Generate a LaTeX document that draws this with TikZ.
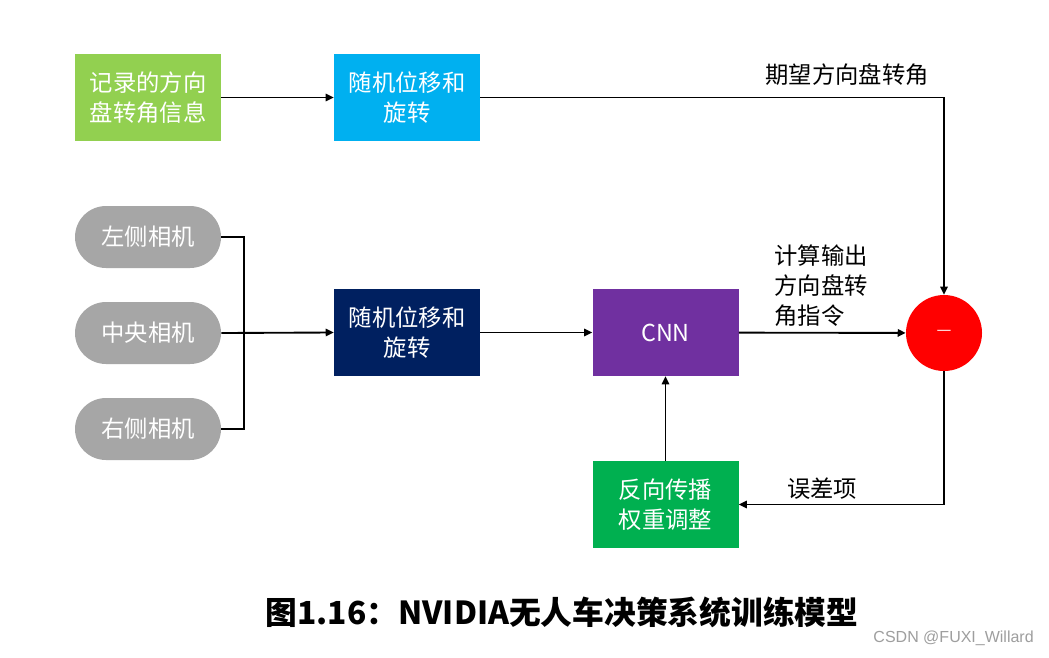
\documentclass[tikz,border=0pt]{standalone}
\usepackage{fontspec}
\setmainfont{Noto Sans CJK SC}
\newfontfamily\wmfont{Liberation Sans}
\usetikzlibrary{arrows.meta}
\definecolor{cgreen}{HTML}{92D050}
\definecolor{cblue}{HTML}{00B0F0}
\definecolor{cnavy}{HTML}{002060}
\definecolor{cpurple}{HTML}{7030A0}
\definecolor{cdgreen}{HTML}{00B050}
\definecolor{cgray}{HTML}{A6A6A6}
\begin{document}
\begin{tikzpicture}[x=0.75pt,y=-0.75pt,
  boxtxt/.style={text=white, align=center, font=\fontsize{17.5}{22}\selectfont, inner sep=0pt},
  sqbox/.style={boxtxt, rectangle, minimum width=109.5pt, minimum height=65.25pt},
  pill/.style={boxtxt, rectangle, rounded corners=23.25pt, fill=cgray, minimum width=109.5pt, minimum height=46.5pt},
  lbl/.style={text=black, align=left, font=\fontsize{17.5}{22.5}\selectfont, inner sep=0pt},
  conn/.style={line width=1.4pt, black},
  arr/.style={conn, -{Triangle[length=6pt,width=5.5pt]}}
]
\useasboundingbox (0,0) rectangle (1049,657);
\fill[white] (0,0) rectangle (1049,657);

\node[sqbox, fill=cgreen] (rec) at (148,97.5) {记录的方向\\盘转角信息};
\node[sqbox, fill=cblue] (rt) at (407,97.5) {随机位移和\\旋转};

\node[pill] (cl) at (148,237) {左侧相机};
\node[pill] (cc) at (148,333) {中央相机};
\node[pill] (cr) at (148,429) {右侧相机};

\node[sqbox, fill=cnavy] (rb) at (407,332.5) {随机位移和\\旋转};
\node[sqbox, fill=cpurple] (cnn) at (665.5,332.5) {CNN};
\node[boxtxt, circle, fill=red, minimum size=57pt, font=\fontsize{12.5}{14}\selectfont] (circ) at (944,333) {—};
\node[sqbox, fill=cdgreen] (bp) at (665.5,504.5) {反向传播\\权重调整};

\node[lbl] (l1) at (847,75) {期望方向盘转角};
\node[lbl] (l2) at (821,286) {计算输出\\方向盘转\\角指令};
\node[lbl] (l3) at (822,489) {误差项};

\coordinate (j) at (244,333);

\draw[arr] (rec) -- (rt);
\draw[arr] (rt.east) -| (circ.north);
\draw[conn] (cl.east) -| (j);
\draw[conn] (cr.east) -| (j);
\draw[arr] (cc.east) -- (rb.west);
\draw[arr] (rb) -- (cnn);
\draw[arr] (cnn) -- (circ);
\draw[arr] (circ.south) |- (bp.east);
\draw[arr] (bp) -- (cnn);

\node[font=\bfseries\fontsize{23.8}{28}\selectfont, inner sep=0pt] (cap) at (562,612) {图1.16：NVIDIA无人车决策系统训练模型};
\node[font=\wmfont\fontsize{12}{14}\selectfont, text=black!38, anchor=east, inner sep=0pt] (wm) at (1034,638) {CSDN @FUXI\_Willard};
\end{tikzpicture}
\end{document}
